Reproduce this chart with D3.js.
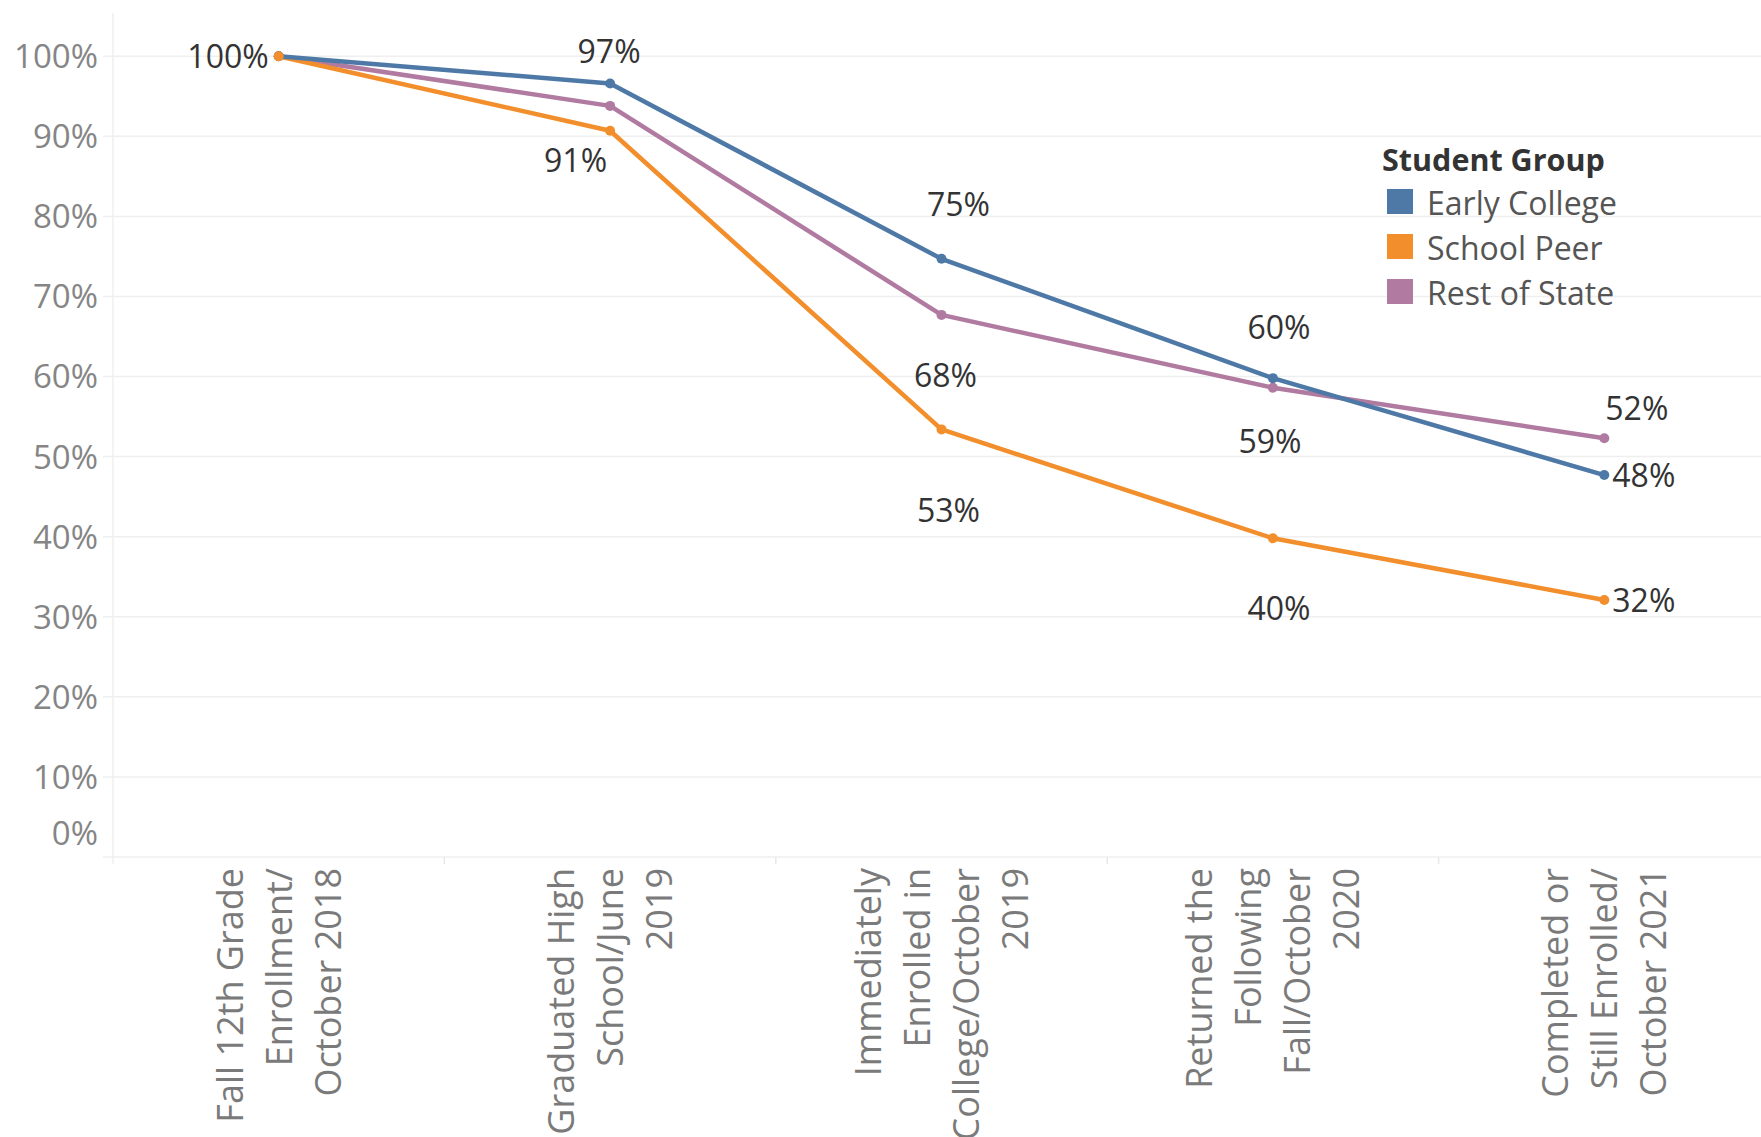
<!DOCTYPE html>
<html>
<head>
<meta charset="utf-8">
<script src="https://cdn.jsdelivr.net/npm/d3@7"></script>
<style>
  html, body { margin: 0; padding: 0; background: #fff; }
  svg { display: block; font-family: "Open Sans", sans-serif; }
</style>
</head>
<body>
<svg id="chart"></svg>
<script>
//  data
const categories = [
  ["Fall 12th Grade", "Enrollment/", "October 2018"],
  ["Graduated High", "School/June", "2019"],
  ["Immediately", "Enrolled in", "College/October", "2019"],
  ["Returned the", "Following", "Fall/October", "2020"],
  ["Completed or", "Still Enrolled/", "October 2021"]
];
const groups = ["Early College", "School Peer", "Rest of State"];
const earlyCollege = [1.00, 0.966, 0.747, 0.598, 0.477];
const schoolPeer   = [1.00, 0.907, 0.534, 0.398, 0.321];
const restOfState  = [1.00, 0.938, 0.677, 0.586, 0.523];
const yTicks = [0, 0.1, 0.2, 0.3, 0.4, 0.5, 0.6, 0.7, 0.8, 0.9, 1.0];
const colors = ["#4e79a7", "#f28e2b", "#b07aa1"];

//  which point labels are shown and where (offset from the point, px)
const labelPlacement = [
  {g: 1, i: 0, anchor: "end",    dx: -10, dy: 12},
  {g: 0, i: 1, anchor: "middle", dx: -1,  dy: -20},
  {g: 1, i: 1, anchor: "end",    dx: -3,  dy: 41},
  {g: 0, i: 2, anchor: "middle", dx: 17,  dy: -43},
  {g: 2, i: 2, anchor: "middle", dx: 4,   dy: 72},
  {g: 1, i: 2, anchor: "middle", dx: 7,   dy: 93},
  {g: 0, i: 3, anchor: "middle", dx: 6,   dy: -39},
  {g: 2, i: 3, anchor: "middle", dx: -3,  dy: 65},
  {g: 1, i: 3, anchor: "middle", dx: 6,   dy: 82},
  {g: 2, i: 4, anchor: "start",  dx: 1,   dy: -18},
  {g: 0, i: 4, anchor: "start",  dx: 8,   dy: 12},
  {g: 1, i: 4, anchor: "start",  dx: 8,   dy: 12}
];

function draw_chart() {
  const w = 1761, h = 1137;
  const margin = ({top: 13, left: 113, bottom: 857, right: 1770});
  const svg = d3.select("#chart").attr("width", w).attr("height", h);

  const values = [earlyCollege, schoolPeer, restOfState];

  const x = d3.scaleBand().domain(d3.range(categories.length)).range([margin.left, margin.right]);
  const y = d3.scaleLinear().domain([0, 1.054]).range([margin.bottom, margin.top]);
  const cx = i => x(i) + x.bandwidth() / 2;
  const fmt = d3.format(".0%");

  svg.selectAll('*').remove();

  //  gridlines + y labels
  yTicks.forEach(t => {
    svg.append("line")
      .attr("x1", margin.left - 10)
      .attr("x2", w)
      .attr("y1", y(t))
      .attr("y2", y(t))
      .style("stroke", "#efefef")
      .style("stroke-width", 1.5);

    svg.append("text")
      .attr("x", 98)
      .attr("y", y(t) + (t == 0 ? -24 : 0))
      .attr("dy", "0.36em")
      .attr("text-anchor", "end")
      .style("font-size", "33px")
      .style("fill", "#858585")
      .text(fmt(t));
  });

  //  left axis line
  svg.append("line")
    .attr("x1", margin.left).attr("x2", margin.left)
    .attr("y1", margin.top).attr("y2", margin.bottom + 7)
    .style("stroke", "#efefef")
    .style("stroke-width", 1.5);

  //  category separators
  categories.forEach((c, i) => {
    if (i == 0) return;
    svg.append("line")
      .attr("x1", x(i)).attr("x2", x(i))
      .attr("y1", margin.bottom).attr("y2", margin.bottom + 7)
      .style("stroke", "#e8e8e8")
      .style("stroke-width", 1.5);
  });

  //  x labels (rotated, wrapped) - the long one runs off the bottom like the original
  categories.forEach((lines, i) => {
    lines.forEach((line, k) => {
      const lx = cx(i) + (k - (lines.length - 1) / 2) * 49;
      svg.append("text")
        .attr("transform", `translate(${lx},868) rotate(-90)`)
        .attr("dy", "0.36em")
        .attr("text-anchor", "end")
        .style("font-size", "36px")
        .style("fill", "#7a7a7a")
        .text(line);
    });
  });

  //  lines
  const lineGen = d3.line().x((d, i) => cx(i)).y(d => y(d));
  [2, 1, 0].forEach(g => {
    svg.append("path")
      .datum(values[g])
      .attr("d", lineGen)
      .attr("fill", "none")
      .attr("stroke", colors[g])
      .attr("stroke-width", 4.5)
      .attr("stroke-linejoin", "round");
  });

  //  dots
  [2, 0, 1].forEach(g => {
    values[g].forEach((v, i) => {
      svg.append("circle")
        .attr("cx", cx(i))
        .attr("cy", y(v))
        .attr("r", 5)
        .attr("fill", colors[g]);
    });
  });

  //  point labels
  labelPlacement.forEach(p => {
    const v = values[p.g][p.i];
    svg.append("text")
      .attr("x", cx(p.i) + p.dx)
      .attr("y", y(v) + p.dy)
      .attr("text-anchor", p.anchor)
      .style("font-size", "32px")
      .style("fill", "#333333")
      .text(fmt(v));
  });

  //  legend
  const lg = svg.append("g").attr("transform", "translate(1382,171)");
  lg.append("text")
    .attr("x", 0).attr("y", 0)
    .style("font-size", "30.5px")
    .style("font-weight", "bold")
    .style("fill", "#333333")
    .text("Student Group");

  groups.forEach((name, g) => {
    lg.append("rect")
      .attr("x", 5)
      .attr("y", 18 + g * 45)
      .attr("width", 26)
      .attr("height", 25)
      .attr("fill", colors[g]);
    lg.append("text")
      .attr("x", 45)
      .attr("y", 44 + g * 45)
      .style("font-size", "32px")
      .style("fill", "#555555")
      .text(name);
  });
}

draw_chart();
</script>
</body>
</html>
